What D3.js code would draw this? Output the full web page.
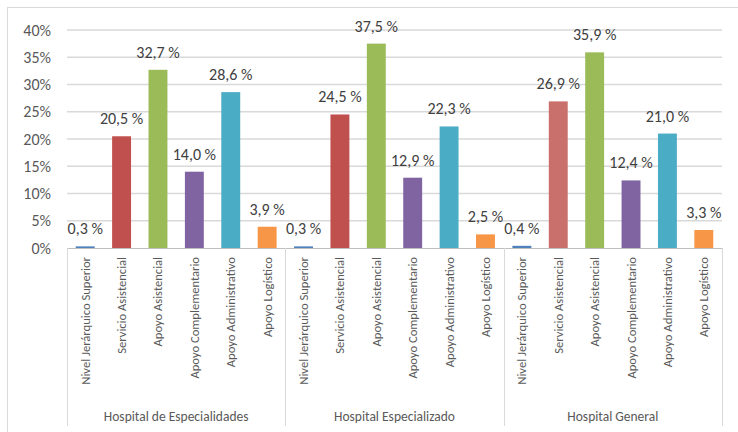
<!DOCTYPE html>
<html>
<head>
<meta charset="utf-8">
<script src="https://cdn.jsdelivr.net/npm/d3@7"></script>
<style>
  html, body { margin: 0; padding: 0; background: #fff; }
  svg { display: block; font-family: Carlito, Calibri, Lato, "Open Sans", sans-serif; }
</style>
</head>
<body>
<svg id="chart" width="738" height="432"></svg>
<script>
// Staff distribution by hospital type (% of workforce)
const hospitals = ["Hospital de Especialidades", "Hospital Especializado", "Hospital General"];
const roles = ["Nivel Jerárquico Superior", "Servicio Asistencial", "Apoyo Asistencial",
               "Apoyo Complementario", "Apoyo Administrativo", "Apoyo Logístico"];
const especialidades = [0.3, 20.5, 32.7, 14.0, 28.6, 3.9];
const especializado  = [0.3, 24.5, 37.5, 12.9, 22.3, 2.5];
const general        = [0.4, 26.9, 35.9, 12.4, 21.0, 3.3];
const yTicks = [0, 5, 10, 15, 20, 25, 30, 35, 40];

const seriesByHospital = [especialidades, especializado, general];
const roleColors = ["#4f81bd", "#c0504d", "#9bbb59", "#8064a2", "#4bacc6", "#f79646"];
// the general hospital's care-service bar is drawn in a lighter red
const colorFor = (h, r) => (h === 2 && r === 1) ? "#c9706c" : roleColors[r];

const svg = d3.select("#chart");
const W = 738, H = 432;
const plot = { left: 67, right: 722, top: 30, bottom: 248 };
const textColor = "#595959";

// outer chart-area frame
svg.append("rect")
  .attr("x", 7.5).attr("y", 7.5)
  .attr("width", W + 10).attr("height", H + 10)
  .attr("fill", "none").attr("stroke", "#d9d9d9").attr("stroke-width", 1);

const y = d3.scaleLinear().domain([0, 40]).range([plot.bottom, plot.top]);
const xGroup = d3.scaleBand().domain(hospitals).range([plot.left, plot.right]).padding(0);
const xRole = d3.scaleBand().domain(roles).range([0, xGroup.bandwidth()]).paddingInner(0.48).paddingOuter(0.24);

// horizontal gridlines
svg.append("g").selectAll("line").data(yTicks.filter(t => t > 0)).join("line")
  .attr("x1", plot.left).attr("x2", plot.right)
  .attr("y1", d => y(d)).attr("y2", d => y(d))
  .attr("stroke", "#d9d9d9").attr("stroke-width", 1.3);

// y axis labels
const yAxis = d3.axisLeft(y).tickValues(yTicks).tickFormat(d => d + "%").tickSize(0).tickPadding(16);
const gy = svg.append("g").attr("transform", `translate(${plot.left},0)`).call(yAxis);
gy.select(".domain").remove();
gy.selectAll("text").attr("fill", textColor).style("font-size", "16px")
  .style("font-family", "Carlito, Calibri, Lato, 'Open Sans', sans-serif");

// bars and value labels
const fmt = v => d3.format(".1f")(v).replace(".", ",") + " %";
hospitals.forEach((hosp, h) => {
  const g = svg.append("g").attr("transform", `translate(${xGroup(hosp)},0)`);
  const rows = roles.map((role, r) => ({ role, r, v: seriesByHospital[h][r] }));
  g.selectAll("rect").data(rows).join("rect")
    .attr("x", d => xRole(d.role))
    .attr("width", xRole.bandwidth())
    .attr("y", d => y(d.v))
    .attr("height", d => y(0) - y(d.v))
    .attr("fill", d => colorFor(h, d.r));
  g.selectAll("text.val").data(rows).join("text")
    .attr("class", "val")
    .attr("x", d => xRole(d.role) + xRole.bandwidth() / 2)
    .attr("y", d => y(d.v) - 12)
    .attr("text-anchor", "middle")
    .attr("fill", "#404040")
    .style("font-size", "16px")
    .text(d => fmt(d.v));
  // rotated category labels
  g.selectAll("text.cat").data(rows).join("text")
    .attr("class", "cat")
    .attr("transform", d => `translate(${xRole(d.role) + xRole.bandwidth() / 2 + 4.5},${plot.bottom + 9}) rotate(-90)`)
    .attr("text-anchor", "end")
    .attr("fill", textColor)
    .style("font-size", "12.6px")
    .text(d => d.role);
  // group label
  g.append("text")
    .attr("x", xGroup.bandwidth() / 2)
    .attr("y", 421)
    .attr("text-anchor", "middle")
    .attr("fill", textColor)
    .style("font-size", "13.5px")
    .text(hosp);
});

// category axis baseline and group separators
svg.append("line")
  .attr("x1", plot.left).attr("x2", plot.right)
  .attr("y1", plot.bottom + 0.5).attr("y2", plot.bottom + 0.5)
  .attr("stroke", "#bfbfbf").attr("stroke-width", 1);
const seps = hospitals.map(hh => xGroup(hh)).concat([plot.right]);
svg.append("g").selectAll("line").data(seps).join("line")
  .attr("x1", d => Math.round(d) + 0.5).attr("x2", d => Math.round(d) + 0.5)
  .attr("y1", plot.bottom).attr("y2", 426)
  .attr("stroke", "#d9d9d9").attr("stroke-width", 1);
</script>
</body>
</html>
